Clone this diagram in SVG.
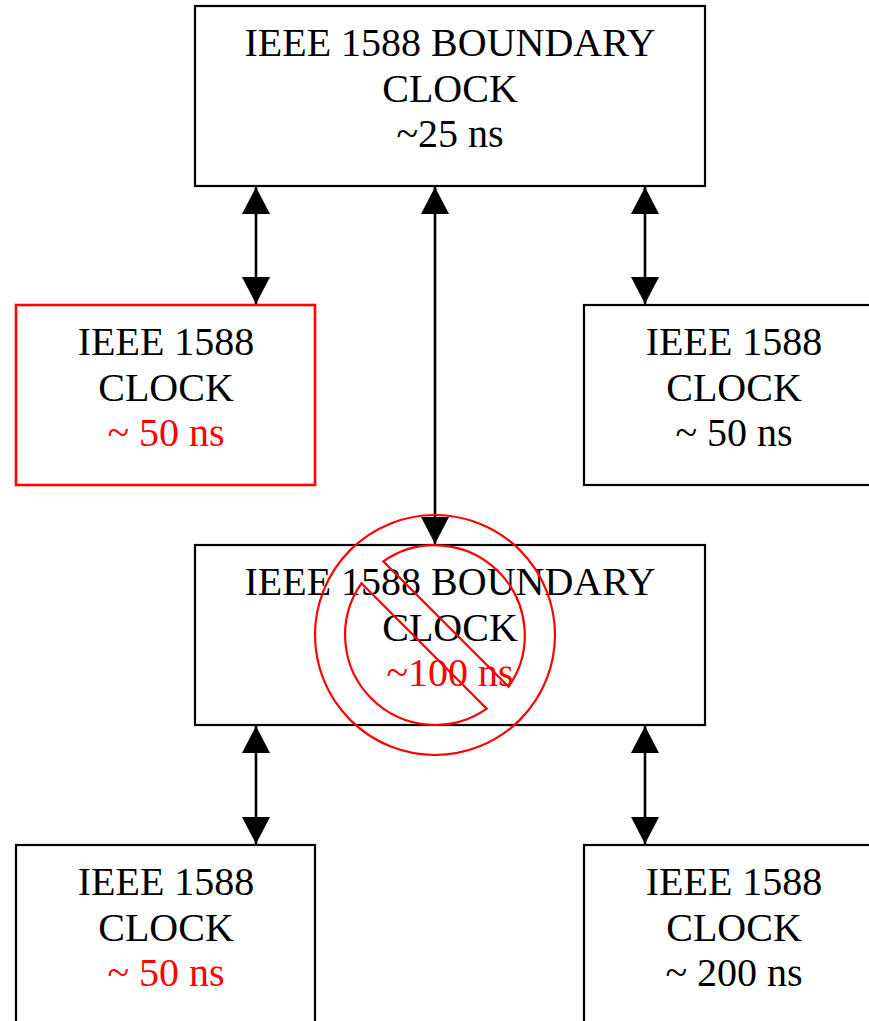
<svg xmlns="http://www.w3.org/2000/svg" width="869" height="1021" viewBox="0 0 869 1021">
<style>
.box{fill:#fff;stroke:#000;stroke-width:2.2}
.rbox{fill:#fff;stroke:#f00;stroke-width:2.6}
text{font-family:"Liberation Serif","Times New Roman",serif;font-size:40px;text-anchor:middle;fill:#000}
.red{fill:#f00}
.conn{stroke:#000;stroke-width:2.6;fill:none;marker-start:url(#ah);marker-end:url(#ah)}
.no{fill:none;stroke:#f00;stroke-width:2.2}
</style>
<defs>
<marker id="ah" viewBox="0 0 27 28" refX="27" refY="14" markerWidth="27" markerHeight="28" markerUnits="userSpaceOnUse" orient="auto-start-reverse">
<path d="M0,0 L27,14 L0,28 Z" fill="#000"/>
</marker>
</defs>
<rect width="869" height="1021" fill="#fff"/>
<g id="top">
<rect class="box" x="195" y="6" width="510" height="180"/>
<text x="450" y="56">IEEE 1588 BOUNDARY</text>
<text x="450" y="102">CLOCK</text>
<text x="450" y="147">~25 ns</text>
</g>
<g id="midLeft">
<rect class="rbox" x="16" y="305" width="299" height="180"/>
<text x="166" y="355">IEEE 1588</text>
<text x="166" y="401">CLOCK</text>
<text class="red" x="166" y="446">~ 50 ns</text>
</g>
<g id="midRight">
<rect class="box" x="584" y="305" width="300" height="180"/>
<text x="734" y="355">IEEE 1588</text>
<text x="734" y="401">CLOCK</text>
<text x="734" y="446">~ 50 ns</text>
</g>
<g id="middle">
<rect class="box" x="195" y="545" width="510" height="180"/>
<text x="450" y="595">IEEE 1588 BOUNDARY</text>
<text x="450" y="641">CLOCK</text>
<text class="red" x="450" y="686">~100 ns</text>
</g>
<g id="botLeft">
<rect class="box" x="16" y="845" width="299" height="185"/>
<text x="166" y="895">IEEE 1588</text>
<text x="166" y="941">CLOCK</text>
<text class="red" x="166" y="986">~ 50 ns</text>
</g>
<g id="botRight">
<rect class="box" x="584" y="845" width="300" height="185"/>
<text x="734" y="895">IEEE 1588</text>
<text x="734" y="941">CLOCK</text>
<text x="734" y="986">~ 200 ns</text>
</g>
<g id="connectors">
<line class="conn" x1="256" y1="187" x2="256" y2="304"/>
<line class="conn" x1="435" y1="187" x2="435" y2="544"/>
<line class="conn" x1="645" y1="187" x2="645" y2="304"/>
<line class="conn" x1="256" y1="726" x2="256" y2="844"/>
<line class="conn" x1="645" y1="726" x2="645" y2="844"/>
</g>
<g id="noSymbol">
<circle class="no" cx="435" cy="635" r="120"/>
<path class="no" d="M383.3,561.4 A90,90 0 0 1 508.6,686.7 Z"/>
<path class="no" d="M486.7,708.7 A90,90 0 0 1 361.4,583.3 Z"/>
</g>
</svg>
